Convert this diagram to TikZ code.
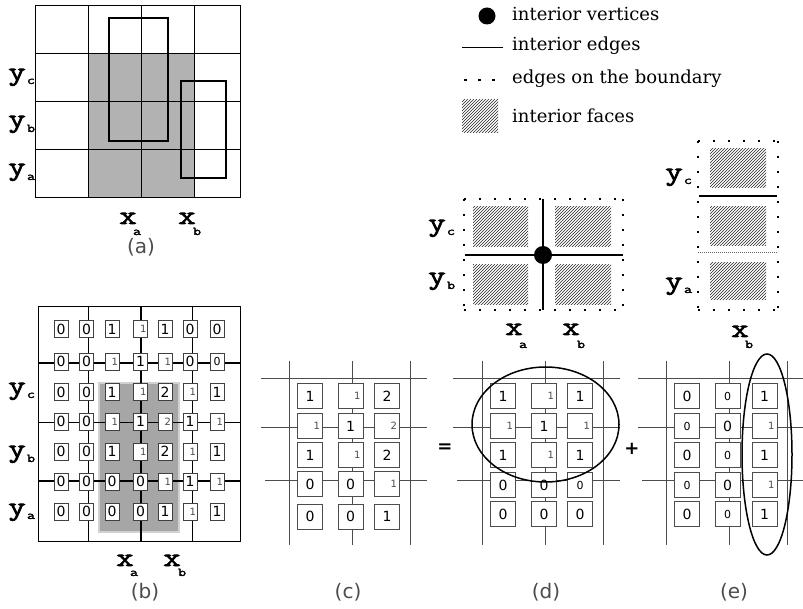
\documentclass[tikz,border=0pt]{standalone}
\usepackage{fontspec}
\setmainfont{DejaVu Serif}
\newfontfamily\numf{DejaVu Sans}
\newfontfamily\capf{DejaVu Sans}
\newfontfamily\lblf{Latin Modern Mono}[FakeStretch=1.3, FakeBold=2.5]
\usetikzlibrary{patterns}
\tikzset{
  gl/.style={line width=1pt},
  rectb/.style={line width=1.6pt},
  bx/.style={draw=black!75, fill=white, line width=0.8pt, inner sep=0pt, minimum width=14pt, minimum height=17pt},
  cx/.style={draw=black!70, fill=white, line width=0.8pt, inner sep=0pt, minimum width=25pt, minimum height=25pt},
  sb0/.style={font=\fontsize{14}{14}\selectfont\numf},
  sb1/.style={font=\fontsize{10}{10}\selectfont\numf, text=black!70, align=right, text width=12pt},
  sb2/.style={font=\fontsize{11}{11}\selectfont\numf},
  sc0/.style={font=\fontsize{14}{14}\selectfont\numf},
  sc1/.style={font=\fontsize{10}{10}\selectfont\numf, text=black!70, align=right, text width=20pt},
  sc2/.style={font=\fontsize{11}{11}\selectfont\numf},
  pl/.style={draw=black!70, line width=0.8pt},
  lbl/.style={font=\fontsize{26}{26}\selectfont\lblf, anchor=base, inner sep=0pt},
  subl/.style={font=\fontsize{12}{12}\selectfont\lblf, anchor=base, inner sep=0pt},
  captxt/.style={font=\fontsize{20}{20}\selectfont\capf, text=black!70},
  leg/.style={font=\fontsize{18}{18}\selectfont, anchor=base west, inner sep=0pt},
  dotb/.style={line width=2.2pt, dash pattern=on 2.2pt off 12.8pt},
  hatch/.style={pattern=north east lines, pattern color=black!85},
  optxt/.style={font=\fontsize{18}{18}\selectfont\numf\bfseries},
}
\begin{document}
\begin{tikzpicture}[x=1pt,y=-1pt]
\useasboundingbox (0,0) rectangle (803,609);
% ---------- (a)
\fill[black!30] (88,54) rectangle (194,198);
\foreach \x in {88,141,194} \draw[gl] (\x,6) -- (\x,198);
\foreach \y in {54,102,150} \draw[gl] (35,\y) -- (240,\y);
\draw[gl] (35,6) rectangle (240,198);
\draw[rectb] (109,18) rectangle (168,141);
\draw[rectb] (181,81) rectangle (226,178);
\node[lbl] (ay1) at (17,80) {y};  \node[subl] (ay1s) at (31,84) {c};
\node[lbl] (ay2) at (17,127) {y}; \node[subl] (ay2s) at (31,132) {b};
\node[lbl] (ay3) at (17,175) {y}; \node[subl] (ay3s) at (31,180) {a};
\node[lbl] (ax1) at (128,224) {x}; \node[subl] (ax1s) at (137,235) {a};
\node[lbl] (ax2) at (187,224) {x}; \node[subl] (ax2s) at (197,235) {b};
\node[captxt] (capa) at (141,247) {(a)};
% ---------- (b)
\fill[black!35, draw=black!18, line width=2pt] (99,383) rectangle (179,532);
\draw[gl] (38,307) rectangle (240,541);
\draw[line width=0.9pt] (88.5,307) -- (88.5,541);
\draw[line width=1.5pt] (141,307) -- (141,541);
\draw[line width=0.9pt] (192,307) -- (192,541);
\draw[line width=1.5pt] (38,363) -- (240,363);
\draw[line width=0.9pt] (38,422) -- (240,422);
\draw[line width=1.5pt] (38,481) -- (240,481);
\foreach \r/\yy/\row in {
 1/329/{0/0,0/0,1/0,1/1,1/0,0/0,0/0},
 2/361.5/{0/0,0/0,1/1,1/0,1/1,0/0,0/2},
 3/392/{0/0,0/0,1/0,1/1,2/0,1/1,1/0},
 4/421.5/{0/0,0/0,1/1,1/0,2/1,1/0,1/1},
 5/451.5/{0/0,0/0,1/0,1/1,2/0,1/1,1/0},
 6/481.5/{0/0,0/0,0/0,0/0,1/1,1/0,1/1},
 7/511.5/{0/0,0/0,0/0,0/0,1/0,1/1,1/0}}{
  \foreach \v/\s [count=\c] in \row {
    \pgfmathsetmacro\xx{{61,86.5,112,140.5,165,190,217}[\c-1]}
    \node[bx, sb\s] (b-\r-\c) at (\xx,\yy) {\v};
  }
}
\node[lbl] (by1) at (17,394) {y}; \node[subl] (by1s) at (31,398) {c};
\node[lbl] (by2) at (17,457) {y}; \node[subl] (by2s) at (31,462) {b};
\node[lbl] (by3) at (17,515) {y}; \node[subl] (by3s) at (31,519) {a};
\node[lbl] (bx1) at (125,566) {x}; \node[subl] (bx1s) at (134,576) {a};
\node[lbl] (bx2) at (172,566) {x}; \node[subl] (bx2s) at (182,576) {b};
\node[captxt] (capb) at (145,592) {(b)};
% ---------- (c)
\foreach \x in {289,352,410} \draw[pl] (\x,361) -- (\x,545);
\draw[pl] (261,378) -- (427,378);
\draw[pl] (261,427) -- (427,427);
\draw[pl] (265,480) -- (427,480);
\foreach \r/\yy/\row in {
 1/396/{1/0,1/1,2/0},
 2/426/{1/1,1/0,2/1},
 3/455/{1/0,1/1,2/0},
 4/484/{0/0,0/0,1/1},
 5/516.5/{0/0,0/0,1/0}}{
  \foreach \v/\s [count=\c] in \row {
    \pgfmathsetmacro\xx{{310,350.5,387}[\c-1]}
    \node[cx, sc\s] (c-\r-\c) at (\xx,\yy) {\v};
  }
}
\node[captxt] (capc) at (348,592) {(c)};
% ---------- (d)
\node[optxt] (eq) at (445,448) {=};
\foreach \x in {482,545,603} \draw[pl] (\x,361) -- (\x,545);
\draw[pl] (453,378) -- (620,378);
\draw[pl] (453,427) -- (620,427);
\draw[pl] (457,480) -- (620,480);
\foreach \r/\yy/\row in {
 1/396/{1/0,1/1,1/0},
 2/426/{1/1,1/0,1/1},
 3/455/{1/0,1/1,1/0},
 4/485/{0/0,0/0,0/2},
 5/514/{0/0,0/0,0/0}}{
  \foreach \v/\s [count=\c] in \row {
    \pgfmathsetmacro\xx{{503,544,580}[\c-1]}
    \node[cx, sc\s] (d-\r-\c) at (\xx,\yy) {\v};
  }
}
\draw[line width=1.5pt] (545.5,424.5) ellipse [x radius=73.5pt, y radius=57.5pt];
\node[captxt] (capd) at (546,592) {(d)};
% ---------- (e)
\node[optxt] (plus) at (632,449) {+};
\foreach \x in {666,729,787} \draw[pl] (\x,361) -- (\x,545);
\draw[pl] (638,378) -- (803,378);
\draw[pl] (638,427) -- (803,427);
\draw[pl] (642,480) -- (803,480);
\foreach \r/\yy/\row in {
 1/396/{0/0,0/2,1/0},
 2/426/{0/2,0/0,1/1},
 3/455/{0/0,0/2,1/0},
 4/485/{0/2,0/0,1/1},
 5/514/{0/0,0/2,1/0}}{
  \foreach \v/\s [count=\c] in \row {
    \pgfmathsetmacro\xx{{687,727.5,764.5}[\c-1]}
    \node[cx, sc\s] (e-\r-\c) at (\xx,\yy) {\v};
  }
}
\draw[line width=1.5pt] (767,454.5) ellipse [x radius=25pt, y radius=100.5pt];
\node[captxt] (cape) at (734,592) {(e)};
% ---------- legend
\fill (487,16) circle [radius=8.5pt];
\node[leg] (l1) at (512,20.5) {interior vertices};
\draw[line width=1pt] (462,48) -- (503,48);
\node[leg] (l2) at (512,51) {interior edges};
\foreach \x in {464,478,492} \fill (\x,79) rectangle +(2.5,2.5);
\node[leg] (l3) at (512,84) {edges on the boundary};
\fill[hatch] (462,100) rectangle (498,133);
\node[leg] (l4) at (512,122.5) {interior faces};
% ---------- middle diagram
\fill[hatch] (473,207) rectangle (528,247);
\fill[hatch] (555,207) rectangle (611,247);
\fill[hatch] (473,265) rectangle (528,305);
\fill[hatch] (555,265) rectangle (611,305);
\draw[dotb] (464,199) -- (623,199);
\draw[dotb] (464,199) -- (464,310);
\draw[dotb] (623,199) -- (623,310);
\draw[dotb] (464,310) -- (623,310);
\draw[line width=1.2pt] (543,199) -- (543,310);
\draw[line width=1.2pt] (465,255) -- (623,255);
\fill (543,255) circle [radius=9pt];
\node[lbl] (my1) at (437,231) {y}; \node[subl] (my1s) at (451,235) {c};
\node[lbl] (my2) at (437,284) {y}; \node[subl] (my2s) at (451,289) {b};
\node[lbl] (mx1) at (514,335) {x}; \node[subl] (mx1s) at (523,348) {a};
\node[lbl] (mx2) at (571,335) {x}; \node[subl] (mx2s) at (581,348) {b};
% ---------- right diagram
\fill[hatch] (710,149) rectangle (766,188);
\fill[hatch] (710,207) rectangle (766,246);
\fill[hatch] (710,263) rectangle (766,300);
\draw[dotb] (698,141) -- (778,141);
\draw[dotb] (698,141) -- (698,310);
\draw[dotb] (778,141) -- (778,310);
\draw[dotb] (698,310) -- (778,310);
\draw[line width=1.2pt] (699,196) -- (777,196);
\draw[black!60, line width=0.7pt, dash pattern=on 0.8pt off 1.2pt] (698,252) -- (778,252);
\node[lbl] (ry1) at (674,180) {y}; \node[subl] (ry1s) at (688,184) {c};
\node[lbl] (ry2) at (674,289) {y}; \node[subl] (ry2s) at (688,293) {a};
\node[lbl] (rx1) at (740,337) {x}; \node[subl] (rx1s) at (749,348) {b};
\end{tikzpicture}
\end{document}
